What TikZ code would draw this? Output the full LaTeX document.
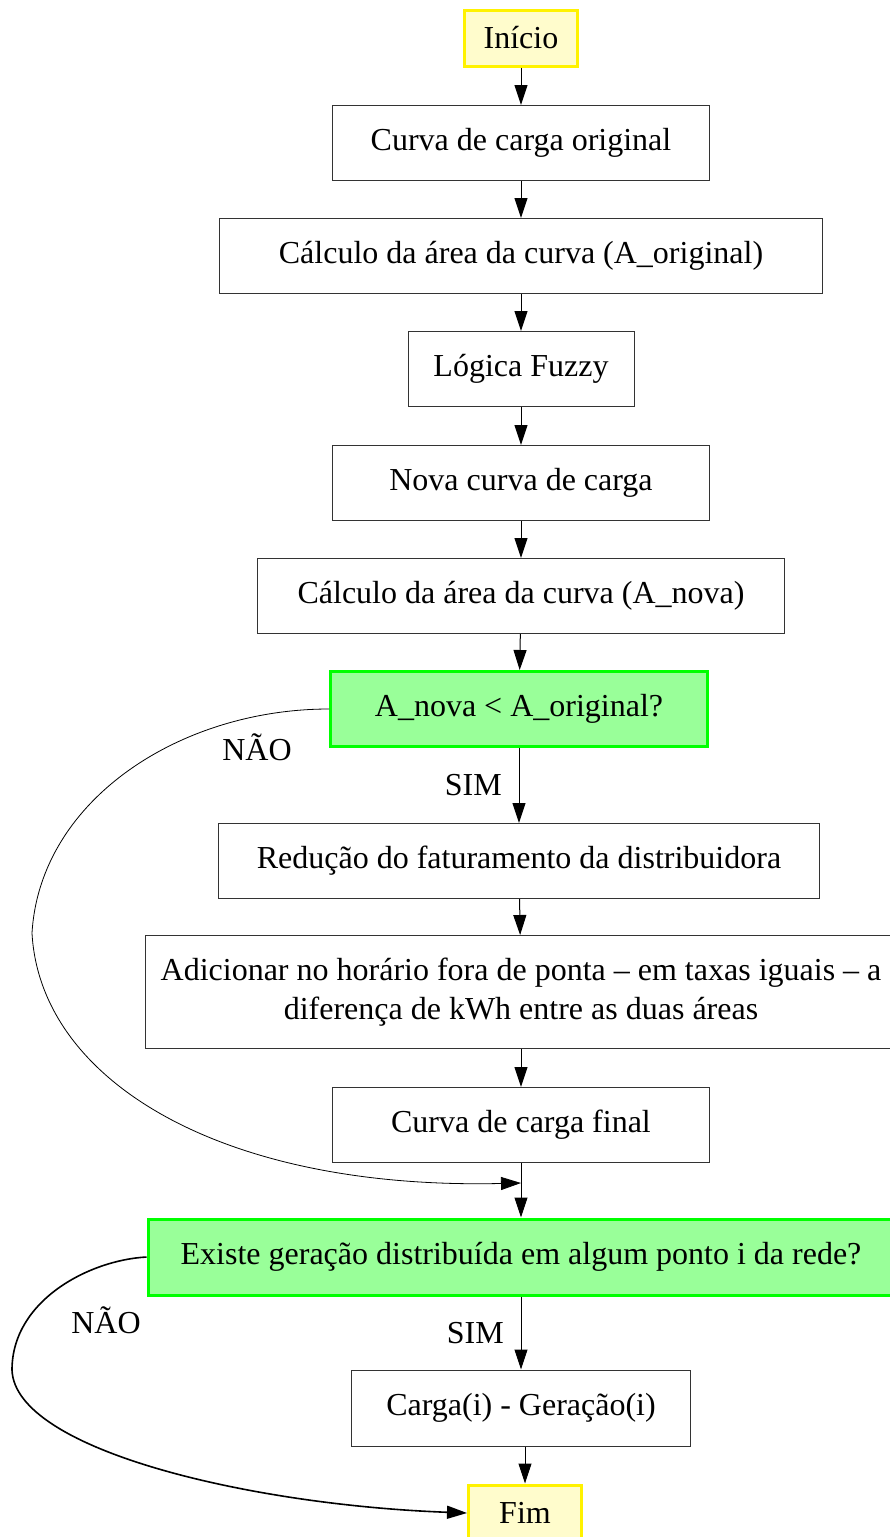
\documentclass[tikz,border=0pt]{standalone}
\usepackage{fontspec}
\setmainfont{Liberation Serif}
\usetikzlibrary{arrows.meta, positioning}

\begin{document}
\begin{tikzpicture}[x=0.5pt, y=-0.5pt,
    etapa/.style={draw=black!80, line width=0.5pt, rectangle, minimum height=37.5pt, align=center, font=\fontsize{16}{19.5}\selectfont},
    terminal/.style={etapa, draw=yellow, fill=yellow!20, line width=1.5pt, minimum width=56.5pt, minimum height=28pt},
    decisao/.style={etapa, draw=green, fill=green!40, line width=1.5pt},
    seta/.style={-{Triangle[length=10pt, width=6.5pt]}, line width=0.5pt},
    rotulo/.style={font=\fontsize{16}{19}\selectfont}]
    \useasboundingbox (0,0) rectangle (889,1537);

    % Etapas do fluxo
    \node[terminal] (inicio) at (521, 38) {Início};
    \node[etapa, minimum width=188.5pt] (curva) at (521, 143) {Curva de carga original};
    \node[etapa, minimum width=301.5pt] (areaorig) at (521, 256) {Cálculo da área da curva (A\_original)};
    \node[etapa, minimum width=113pt] (fuzzy) at (521, 369) {Lógica Fuzzy};
    \node[etapa, minimum width=188.5pt] (nova) at (521, 483) {Nova curva de carga};
    \node[etapa, minimum width=263.5pt] (areanova) at (521, 596) {Cálculo da área da curva (A\_nova)};
    \node[decisao, minimum width=188.5pt] (dec1) at (519, 709) {A\_nova < A\_original?};
    \node[etapa, minimum width=300.5pt] (reducao) at (519, 861) {Redução do faturamento da distribuidora};
    \node[etapa, minimum width=376pt, minimum height=56.5pt] (adicionar) at (521, 992) {Adicionar no horário fora de ponta -- em taxas iguais -- a\\diferença de kWh entre as duas áreas};
    \node[etapa, minimum width=188.5pt] (final) at (521, 1125) {Curva de carga final};
    \node[decisao, minimum width=373pt, minimum height=38pt] (dec2) at (521, 1257) {Existe geração distribuída em algum ponto i da rede?};
    \node[etapa, minimum width=169.5pt, minimum height=38pt] (carga) at (521, 1408) {Carga(i) - Geração(i)};
    \node[terminal] (fim) at (525, 1513) {Fim};

    % Junção
    \coordinate (junc) at (521, 1183);

    % Conexões
    \draw[seta] (inicio) -- (curva);
    \draw[seta] (curva) -- (areaorig);
    \draw[seta] (areaorig) -- (fuzzy);
    \draw[seta] (fuzzy) -- (nova);
    \draw[seta] (nova) -- (areanova);
    \draw[seta] (areanova) -- (dec1);
    \draw[seta] (dec1) -- node[rotulo, left=5pt] {SIM} (reducao);
    \draw[seta] (reducao) -- (adicionar);
    \draw[seta] (adicionar) -- (final);
    \draw[seta] (final) -- (dec2);
    \draw[seta] (dec2) -- node[rotulo, left=5pt] {SIM} (carga);
    \draw[seta] (carga.south -| fim) -- (fim);

    % Ramos NÃO
    \draw[seta, line width=0.4pt] (dec1.west) .. controls (180, 709) and (40, 800) .. (32, 933)
        .. controls (40, 1080) and (220, 1190) .. (junc);
    \node[rotulo] (nao1) at (257, 747) {NÃO};
    \draw[seta, line width=0.8pt] (dec2.west) .. controls (90, 1260) and (12, 1300) .. (12, 1370)
        .. controls (15, 1450) and (250, 1505) .. (fim.west);
    \node[rotulo] (nao2) at (106, 1320) {NÃO};
\end{tikzpicture}
\end{document}
